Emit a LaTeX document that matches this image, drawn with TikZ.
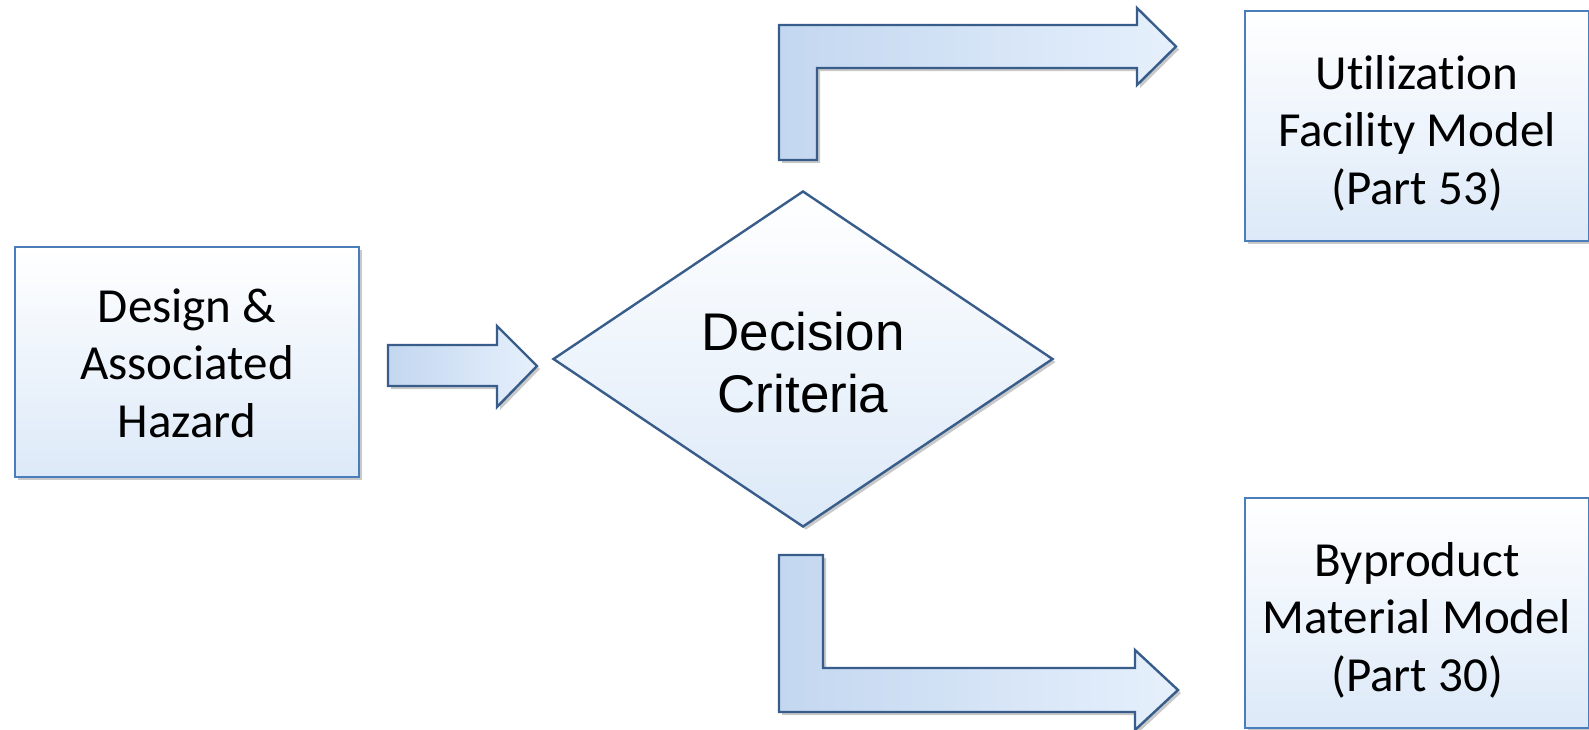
\documentclass[tikz,border=0pt]{standalone}
\usepackage{fontspec}
\setmainfont{Carlito}[Ligatures=NoCommon]
\newfontfamily\arialf{Liberation Sans}
\usetikzlibrary{shapes.geometric,shadows}
\definecolor{edgeblue}{HTML}{4A7EBB}
\definecolor{darkedge}{HTML}{385D8A}
\definecolor{boxbottom}{HTML}{DCE9F8}
\definecolor{arrowleft}{HTML}{C3D7F0}
\definecolor{arrowright}{HTML}{E6F0FC}
\tikzset{
  px/.style={x=0.5pt,y=-0.5pt},
  softshadow/.style={drop shadow={shadow xshift=1.5pt, shadow yshift=-1.5pt, opacity=0.35, fill=black!60}},
  modelbox/.style={draw=edgeblue, line width=1.3pt, top color=white, bottom color=boxbottom,
    minimum width=172pt, minimum height=115pt, inner sep=0pt, softshadow},
  boxtext/.style={align=center, inner sep=0pt, font=\fontsize{24.5}{28.8}\selectfont},
  decision/.style={diamond, draw=darkedge, line width=1.2pt, top color=white, bottom color=boxbottom,
    minimum width=250pt, minimum height=168pt, inner sep=0pt, aspect=1.49, softshadow},
  decisiontext/.style={align=center, inner sep=0pt, font=\arialf\fontsize{26.5}{31}\selectfont},
  blockarrow/.style={draw=darkedge, line width=1.2pt, line join=miter, left color=arrowleft, right color=arrowright, softshadow},
}
\begin{document}
\begin{tikzpicture}[px]
\useasboundingbox[fill=white] (0,0) rectangle (1589,729);
% nodes
\node[modelbox, label={[boxtext, yshift=-0.5pt]center:Design \&\\Associated\\Hazard}] (design) at (187,362) {};
\node[decision, label={[decisiontext, yshift=-2pt]center:Decision\\Criteria}] (crit) at (803,359) {};
\node[modelbox, label={[boxtext, yshift=-3.5pt]center:Utilization\\Facility Model\\(Part 53)}] (util) at (1417,126) {};
\node[modelbox, label={[boxtext, yshift=-3.5pt]center:Byproduct\\Material Model\\(Part 30)}] (byprod) at (1417,613) {};
% block arrows
\draw[blockarrow] (388,345) -- (497,345) -- (497,326) -- (537,366) -- (497,407) -- (497,386) -- (388,386) -- cycle;
\draw[blockarrow] (779,160) -- (779,25) -- (1137,25) -- (1137,8) -- (1176,46.5) -- (1137,85) -- (1137,68) -- (817,68) -- (817,160) -- cycle;
\draw[blockarrow] (779,555) -- (823,555) -- (823,668) -- (1135,668) -- (1135,650) -- (1178,690) -- (1135,730) -- (1135,712) -- (779,712) -- cycle;
\end{tikzpicture}
\end{document}
